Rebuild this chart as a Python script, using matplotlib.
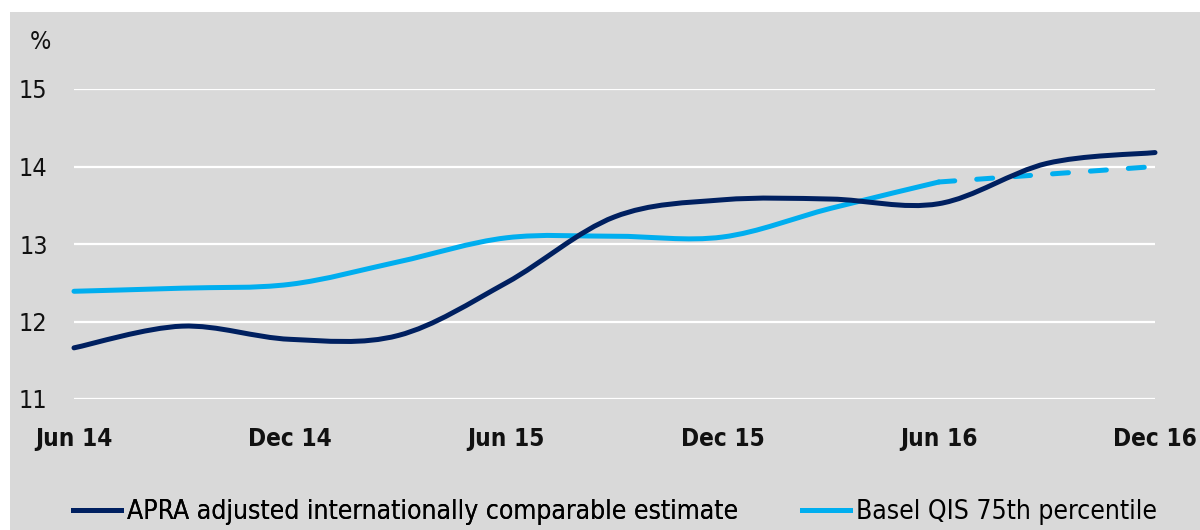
import numpy as np
import matplotlib.pyplot as plt
from matplotlib.path import Path
from matplotlib.patches import PathPatch, Rectangle
from matplotlib.lines import Line2D

################### data ###################
quarters = ["Jun 14", "Sep 14", "Dec 14", "Mar 15", "Jun 15", "Sep 15",
            "Dec 15", "Mar 16", "Jun 16", "Sep 16", "Dec 16"]
apra = [11.66, 11.94, 11.77, 11.82, 12.50, 13.35, 13.57, 13.58, 13.52, 14.04, 14.18]
basel = [12.39, 12.43, 12.48, 12.77, 13.08, 13.10, 13.09, 13.46, 13.80, 13.90, 14.00]
basel_solid_end = 8   # Jun 16, after that the series is dashed
tick_labels = ["Jun 14", "Dec 14", "Jun 15", "Dec 15", "Jun 16", "Dec 16"]
yticks = [11, 12, 13, 14, 15]

navy = "#002060"
sky = "#00AEEF"
grey = "#D9D9D9"
plt.rcParams["font.family"] = ["DejaVu Sans"]
plt.rcParams["font.stretch"] = "condensed"


def smooth_path(xs, ys):
    # excel-like smoothed line: catmull-rom turned into cubic bezier segments
    pts = np.column_stack([xs, ys]).astype(float)
    verts = [pts[0]]
    codes = [Path.MOVETO]
    n = len(pts)
    for i in range(n - 1):
        p0 = pts[i - 1] if i > 0 else pts[i]
        p1 = pts[i]
        p2 = pts[i + 1]
        p3 = pts[i + 2] if i + 2 < n else pts[i + 1]
        c1 = p1 + (p2 - p0) / 6.0
        c2 = p2 - (p3 - p1) / 6.0
        verts += [c1, c2, p2]
        codes += [Path.CURVE4] * 3
    return Path(verts, codes)


fig = plt.figure(figsize=(12, 5.3), dpi=100)
fig.patch.set_facecolor("white")
fig.patches.append(Rectangle((10 / 1200, 0), 1190 / 1200, 1 - 12 / 530,
                             transform=fig.transFigure, facecolor=grey,
                             edgecolor="none", zorder=-5))

# title, cut off at the very top as in the source
fig.text(10 / 1200, 1 + 7 / 530,
         "Figure 3: Major bank internationally comparable CET1 ratios against Basel QIS 75th percentile",
         fontsize=20, fontweight="bold", style="italic", va="baseline", ha="left",
         color="#1a1a1a")

ax = fig.add_axes([74 / 1200, 1 - 399 / 530, (1155 - 74) / 1200, (399 - 89) / 530])
ax.set_facecolor("none")
for s in ax.spines.values():
    s.set_visible(False)

x = np.arange(len(quarters))
ax.set_xlim(0, len(quarters) - 1)
ax.set_ylim(11, 15)
ax.set_yticks(yticks)
ax.set_xticks(x[::2])
ax.set_xticklabels(tick_labels, fontsize=17.5, fontweight="bold")
ax.set_yticklabels([str(v) for v in yticks], fontsize=18)
ax.tick_params(axis="both", length=0, colors="#111111")
ax.tick_params(axis="y", pad=19)
ax.tick_params(axis="x", pad=20)
ax.yaxis.grid(True, color="white", linewidth=1.6)
ax.set_axisbelow(True)

lw = 3.6
ax.add_patch(PathPatch(smooth_path(x, apra), fill=False, edgecolor=navy,
                       linewidth=lw, capstyle="round", zorder=3, clip_on=False))
k = basel_solid_end
ax.add_patch(PathPatch(smooth_path(x[:k + 1], basel[:k + 1]), fill=False,
                       edgecolor=sky, linewidth=lw, capstyle="round", zorder=2,
                       clip_on=False))
ax.plot(x[k:], basel[k:], color=sky, linewidth=lw, dashes=(3.2, 4.4),
        dash_capstyle="round", zorder=2, clip_on=False)

fig.text(40 / 1200, 1 - 42 / 530, "%", fontsize=18, ha="center", va="center",
         color="#111111")

h1 = Line2D([], [], color=navy, linewidth=lw)
h2 = Line2D([], [], color=sky, linewidth=lw)
leg1 = fig.legend([h1], ["APRA adjusted internationally comparable estimate"],
                  loc="center left", bbox_to_anchor=(73 / 1200, 1 - 512 / 530),
                  frameon=False, fontsize=19, handlelength=1.8, handletextpad=0.25,
                  borderpad=0, borderaxespad=0)
leg2 = fig.legend([h2], ["Basel QIS 75th percentile"],
                  loc="center left", bbox_to_anchor=(802 / 1200, 1 - 512 / 530),
                  frameon=False, fontsize=19, handlelength=1.8, handletextpad=0.25,
                  borderpad=0, borderaxespad=0)
fig.add_artist(leg1)

fig.savefig("out.png", dpi=100, facecolor=fig.get_facecolor())
